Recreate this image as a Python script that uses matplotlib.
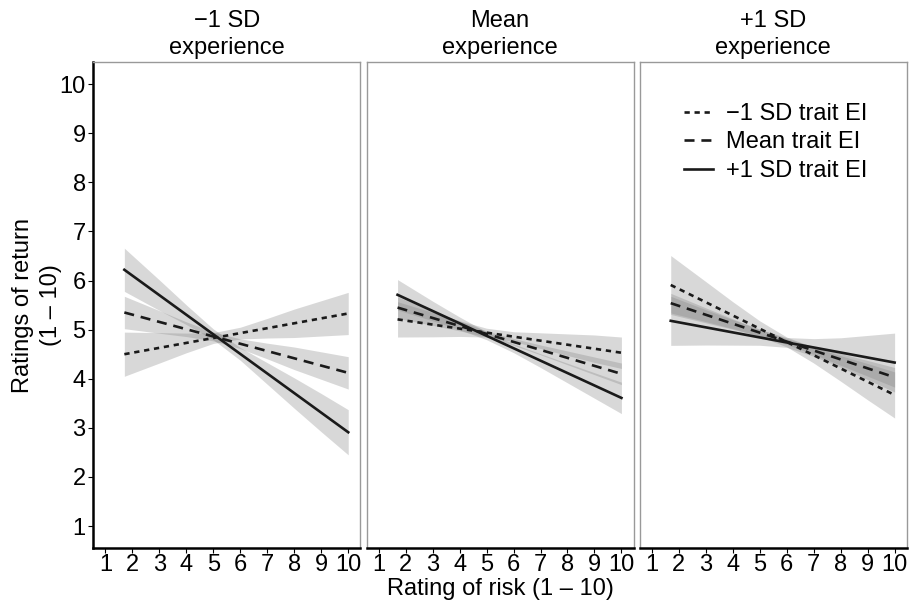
import numpy as np
import matplotlib.pyplot as plt

plt.rcParams['font.family'] = ['Liberation Sans', 'DejaVu Sans']

# ---- datos ----
paneles = ["\u22121 SD\nexperience", "Mean\nexperience", "+1 SD\nexperience"]
series = ["\u22121 SD trait EI", "Mean trait EI", "+1 SD trait EI"]
x_ini, x_fin = 1.7, 10.0

# valores ajustados al inicio y al final (por panel: dotted, dashed, solid)
y_ini = [[4.50, 5.35, 6.22],
         [5.21, 5.45, 5.71],
         [5.91, 5.54, 5.18]]
y_fin = [[5.33, 4.12, 2.91],
         [4.53, 4.10, 3.61],
         [3.67, 4.03, 4.33]]

# medio ancho de la banda de confianza en x_banda
x_banda = [1.7, 3, 4, 5, 6, 7, 8, 9, 10]
medio_ancho = [
    [[0.45, 0.31, 0.20, 0.11, 0.12, 0.20, 0.29, 0.36, 0.43],
     [0.33, 0.23, 0.15, 0.09, 0.10, 0.16, 0.23, 0.28, 0.33],
     [0.44, 0.31, 0.20, 0.11, 0.13, 0.22, 0.31, 0.39, 0.46]],
    [[0.36, 0.25, 0.16, 0.09, 0.10, 0.16, 0.22, 0.28, 0.32],
     [0.22, 0.15, 0.10, 0.06, 0.07, 0.10, 0.14, 0.18, 0.22],
     [0.31, 0.20, 0.13, 0.08, 0.09, 0.14, 0.20, 0.26, 0.32]],
    [[0.60, 0.42, 0.28, 0.16, 0.10, 0.16, 0.26, 0.37, 0.47],
     [0.20, 0.14, 0.10, 0.07, 0.06, 0.08, 0.12, 0.16, 0.20],
     [0.50, 0.36, 0.26, 0.16, 0.10, 0.18, 0.30, 0.45, 0.60]],
]

estilos = [(0, (2.0, 1.8)), (0, (3.8, 2.6)), "-"]
fs = 17

fig, axes = plt.subplots(1, 3, figsize=(9.15, 6.03), dpi=100, sharey=True)
plt.subplots_adjust(left=0.102, right=0.991, bottom=0.091, top=0.897, wspace=0.023)

xb = np.array(x_banda)
for p, ax in enumerate(axes):
    for s in range(3):
        pend = (y_fin[p][s] - y_ini[p][s]) / (x_fin - x_ini)
        yb = y_ini[p][s] + pend * (xb - x_ini)
        hw = np.array(medio_ancho[p][s])
        ax.fill_between(xb, yb - hw, yb + hw, color="#808080", alpha=0.3, lw=0)
    for s in range(3):
        ax.plot([x_ini, x_fin], [y_ini[p][s], y_fin[p][s]], color="#1a1a1a",
                lw=1.9, linestyle=estilos[s], label=series[s])
    ax.set_xlim(0.55, 10.45)
    ax.set_ylim(0.55, 10.45)
    ax.set_xticks(range(1, 11))
    ax.set_yticks(range(1, 11))
    ax.tick_params(labelsize=fs, length=3.5, colors="black", pad=2)
    ax.tick_params(axis="x", pad=1)
    ax.set_title(paneles[p], fontsize=fs, pad=6, linespacing=1.3)
    for lado in ["top", "right", "left"]:
        ax.spines[lado].set_color("#999999")
        ax.spines[lado].set_linewidth(1)
    ax.spines["bottom"].set_color("black")
    ax.spines["bottom"].set_linewidth(1.8)
    if p == 0:
        ax.spines["left"].set_color("black")
        ax.spines["left"].set_linewidth(1.8)
    else:
        ax.tick_params(axis="y", length=0)

axes[0].set_ylabel("Ratings of return\n(1 \u2013 10)", fontsize=fs, linespacing=1.35, labelpad=-2)
axes[1].set_xlabel("Rating of risk (1 \u2013 10)", fontsize=fs, labelpad=1)

axes[2].legend(loc="upper left", bbox_to_anchor=(0.085, 0.96), frameon=False,
               fontsize=fs, handlelength=1.25, labelspacing=0.28, handletextpad=0.55)

plt.savefig("out.png", dpi=100)
